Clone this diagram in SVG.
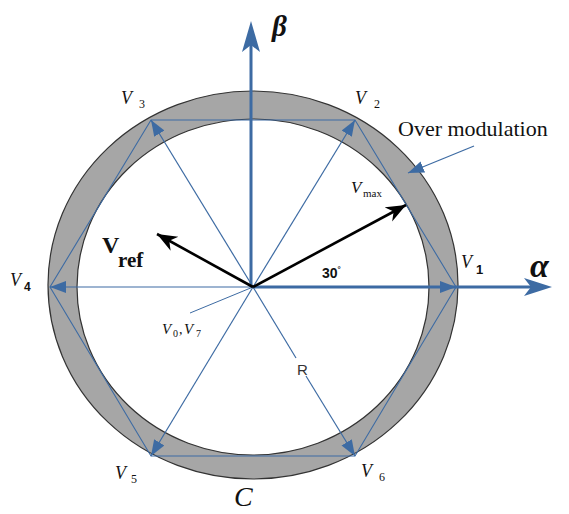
<svg xmlns="http://www.w3.org/2000/svg" width="569" height="514" viewBox="0 0 569 514">
<style>
.v{font-family:"Liberation Serif",serif;font-style:italic;fill:#111}
.s{font-family:"Liberation Serif",serif;fill:#111}
.b{stroke:#3d6ba3;fill:none}
</style>
<defs>
<marker id="ah" markerUnits="userSpaceOnUse" markerWidth="20" markerHeight="14" refX="16" refY="6" orient="auto"><path d="M0,0 L16,6 L0,12 Z" fill="#3d6ba3"/></marker>
<marker id="ak" markerUnits="userSpaceOnUse" markerWidth="22" markerHeight="18" refX="20" refY="8" orient="auto"><path d="M0,0 L20,8 L0,16 L6,8 Z" fill="#000"/></marker>
</defs>
<g id="ring">
<ellipse cx="253" cy="285" rx="205" ry="194" fill="#a6a6a6" stroke="#333" stroke-width="1.2"/>
<ellipse cx="253" cy="287" rx="176" ry="168" fill="#fff" stroke="#333" stroke-width="1.2"/>
</g>
<g id="hexagon">
<polygon class="b" stroke-width="1.1" points="456,287 355,120 151,120 50,287 151,456 355,456"/>
</g>
<g id="connectors">
<line class="b" stroke-width="1.2" x1="253" y1="287" x2="355" y2="120" marker-end="url(#ah)"/>
<line class="b" stroke-width="1.2" x1="253" y1="287" x2="151" y2="120" marker-end="url(#ah)"/>
<line class="b" stroke-width="1.2" x1="253" y1="287" x2="50" y2="287" marker-end="url(#ah)"/>
<line class="b" stroke-width="1.2" x1="253" y1="287" x2="151" y2="456" marker-end="url(#ah)"/>
<line class="b" stroke-width="1.2" x1="253" y1="287" x2="296" y2="358"/>
<line class="b" stroke-width="1.2" x1="306" y1="376" x2="355" y2="456" marker-end="url(#ah)"/>
<line class="b" stroke-width="1" x1="253" y1="287" x2="190" y2="313"/>
<line class="b" stroke-width="3" x1="253" y1="287" x2="545" y2="287"/>
<path d="M552,287 L524,278 L531,287 L524,296 Z" fill="#3d6ba3"/>
<line class="b" stroke-width="1.2" x1="253" y1="287" x2="456" y2="287" marker-end="url(#ah)"/>
<line class="b" stroke-width="3" x1="251" y1="287" x2="251" y2="30"/>
<path d="M251,21 L242,52 L251,45 L260,52 Z" fill="#3d6ba3"/>
<line class="b" stroke-width="1.2" x1="474" y1="146" x2="408" y2="173" marker-end="url(#ah)"/>
<line x1="253" y1="287" x2="406" y2="205" stroke="#000" stroke-width="2.6" marker-end="url(#ak)"/>
<line x1="253" y1="287" x2="157" y2="234" stroke="#000" stroke-width="2.6" marker-end="url(#ak)"/>
</g>
<g id="labels">
<text class="v" x="121" y="104" font-size="18">V</text><text class="s" x="139" y="108" font-size="12">3</text>
<text class="v" x="355" y="104" font-size="18">V</text><text class="s" x="374" y="108" font-size="12">2</text>
<text class="v" x="461" y="268" font-size="18">V</text><text x="476" y="274" font-size="13" font-weight="bold" font-family="Liberation Sans,sans-serif" fill="#111">1</text>
<text class="v" x="10" y="286" font-size="18">V</text><text x="24" y="291" font-size="12" font-weight="bold" font-family="Liberation Sans,sans-serif" fill="#111">4</text>
<text class="v" x="115" y="479" font-size="18">V</text><text class="s" x="131" y="483" font-size="12">5</text>
<text class="v" x="361" y="477" font-size="18">V</text><text class="s" x="379" y="481" font-size="12">6</text>
<text class="v" x="351" y="193" font-size="17">V</text><text class="s" x="363" y="197" font-size="11">max</text>
<text class="v" x="162" y="334" font-size="15">V</text><text class="s" x="173" y="337" font-size="10">0</text><text class="s" x="179" y="334" font-size="14">,</text><text class="v" x="184" y="334" font-size="15">V</text><text class="s" x="196" y="337" font-size="10">7</text>
<text x="102" y="253" font-size="24" font-weight="bold" font-family="Liberation Serif,serif" fill="#111">V</text><text x="118" y="267" font-size="21" font-weight="bold" font-family="Liberation Serif,serif" fill="#111">ref</text>
<text x="322" y="278" font-size="14" font-weight="bold" font-family="Liberation Sans,sans-serif" fill="#111">30<tspan font-size="8" dy="-6">°</tspan></text>
<text x="297" y="375" font-size="15" font-family="Liberation Sans,sans-serif" fill="#333">R</text>
<text class="s" x="398" y="136" font-size="22">Over modulation</text>
<text x="530" y="277" font-size="34" font-style="italic" font-weight="bold" font-family="Liberation Serif,serif" fill="#111">α</text>
<text x="272" y="36" font-size="29" font-style="italic" font-weight="bold" font-family="Liberation Serif,serif" fill="#111">β</text>
<text class="v" x="234" y="506" font-size="28">C</text>
</g>
</svg>
